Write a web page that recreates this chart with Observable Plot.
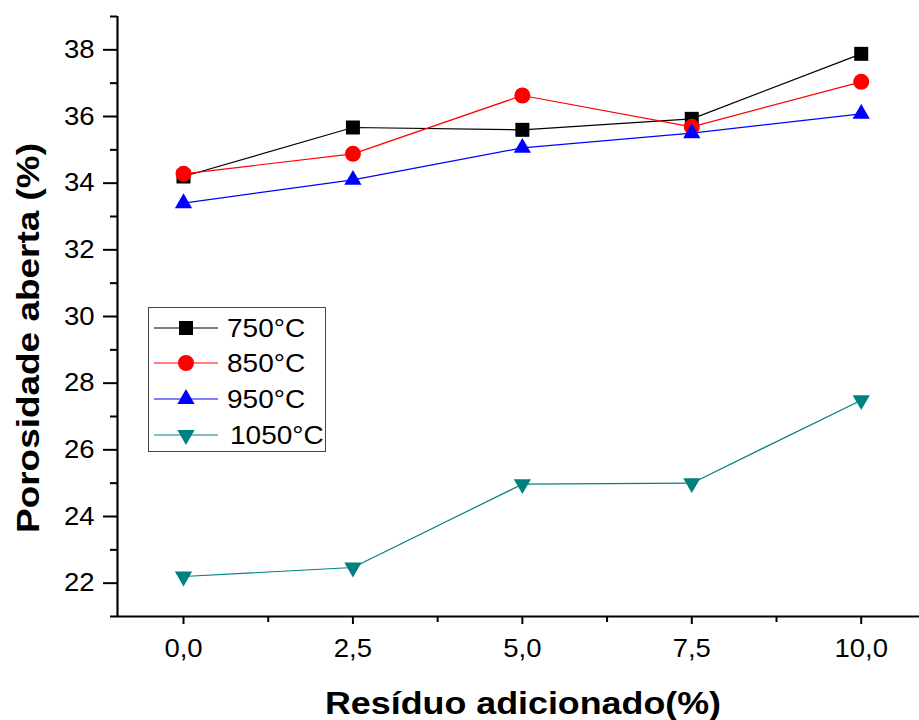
<!DOCTYPE html>
<html>
<head>
<meta charset="utf-8">
<script src="https://cdn.jsdelivr.net/npm/d3@7"></script>
<script src="https://cdn.jsdelivr.net/npm/@observablehq/plot@0.6"></script>
<style>
  html, body { margin: 0; padding: 0; background: #fff; }
  #chart { position: relative; width: 919px; height: 720px; }
</style>
</head>
<body>
<div id="chart"></div>
<script>
// ---- data ----
const residuo = [0, 2.5, 5, 7.5, 10];
const series = ["750°C", "850°C", "950°C", "1050°C"];
const por750 = [34.2, 35.67, 35.6, 35.93, 37.88];
const por850 = [34.28, 34.88, 36.63, 35.69, 37.04];
const por950 = [33.4, 34.1, 35.06, 35.5, 36.08];
const por1050 = [22.2, 22.47, 24.97, 25.0, 27.49];
const colors = ["#000000", "#ff0000", "#0000ff", "#008080"];
const xTicks = [0, 2.5, 5, 7.5, 10];
const xTickLabels = ["0,0", "2,5", "5,0", "7,5", "10,0"];
const xMinor = [1.25, 3.75, 6.25, 8.75];
const yTicks = [22, 24, 26, 28, 30, 32, 34, 36, 38];
const yMinor = [21, 23, 25, 27, 29, 31, 33, 35, 37, 39];
const xDomain = [-0.974, 10.86];
const yDomain = [21, 39];

const triangleDown = {
  draw(context, size) {
    const y = -Math.sqrt(size / (Math.sqrt(3) * 3));
    context.moveTo(0, -y * 2);
    context.lineTo(-Math.sqrt(3) * y, y);
    context.lineTo(Math.sqrt(3) * y, y);
    context.closePath();
  }
};
const symbols = ["square", "circle", "triangle", triangleDown];
const radii = [7.9, 8, 6.4, 6.4];

const allValues = [por750, por850, por950, por1050];
const data = [];
series.forEach((s, i) => residuo.forEach((x, j) => data.push({serie: s, idx: i, x, y: allValues[i][j]})));

const font = "'Liberation Sans', Arial, sans-serif";

const marks = [];
series.forEach((s, i) => {
  const d = data.filter(r => r.idx === i);
  marks.push(Plot.line(d, {x: "x", y: "y", stroke: colors[i], strokeWidth: 1.2}));
});
series.forEach((s, i) => {
  const d = data.filter(r => r.idx === i);
  marks.push(Plot.dot(d, {x: "x", y: "y", fill: colors[i], stroke: "none", symbol: symbols[i], r: radii[i]}));
});

// axes
marks.push(
  Plot.ruleX([xDomain[0]], {stroke: "#000", strokeWidth: 2.2}),
  Plot.ruleY([yDomain[0]], {stroke: "#000", strokeWidth: 2.2}),
  Plot.axisY({ticks: yTicks, tickSize: 14, tickPadding: 9, tickFormat: d => String(d), label: null, fontSize: 25, strokeWidth: 2}),
  Plot.axisY({ticks: yMinor, tickSize: 7, tickFormat: () => "", label: null, strokeWidth: 2}),
  Plot.axisX({ticks: xTicks, tickSize: 8, tickPadding: 15, tickFormat: (d) => xTickLabels[xTicks.indexOf(d)], label: null, fontSize: 25, strokeWidth: 2}),
  Plot.axisX({ticks: xMinor, tickSize: 6, tickFormat: () => "", label: null, strokeWidth: 2})
);

const plot = Plot.plot({
  width: 919,
  height: 720,
  marginLeft: 117,
  marginRight: 0,
  marginTop: 16,
  marginBottom: 104,
  style: {fontFamily: font, fontSize: "25px", color: "#000", background: "#fff", overflow: "visible"},
  x: {domain: xDomain},
  y: {domain: yDomain},
  marks
});

const svg = d3.select(plot);
const tickTexts = svg.selectAll("g[aria-label='y-axis tick label'] text, g[aria-label='x-axis tick label'] text")
  .style("font-size", "25px");

// axis titles
svg.append("text")
  .attr("x", 523).attr("y", 703)
  .attr("text-anchor", "middle").attr("dominant-baseline", "central")
  .attr("textLength", 396).attr("lengthAdjust", "spacingAndGlyphs")
  .style("font-family", font).style("font-weight", "bold").style("font-size", "31px")
  .text("Resíduo adicionado(%)");
svg.append("text")
  .attr("transform", "translate(28,338) rotate(-90)")
  .attr("text-anchor", "middle").attr("dominant-baseline", "central")
  .attr("textLength", 390).attr("lengthAdjust", "spacingAndGlyphs")
  .style("font-family", font).style("font-weight", "bold").style("font-size", "31px")
  .text("Porosidade aberta (%)");

// legend
const lg = svg.append("g");
lg.append("rect").attr("x", 148.5).attr("y", 307.5).attr("width", 177).attr("height", 144)
  .attr("fill", "#fff").attr("stroke", "#444").attr("stroke-width", 1);
const rowsY = [328, 363, 399, 435];
const legendTexts = [];
series.forEach((s, i) => {
  const y = rowsY[i];
  lg.append("line").attr("x1", 154).attr("x2", 218).attr("y1", y).attr("y2", y)
    .attr("stroke", colors[i]).attr("stroke-width", 1.2);
  const sym = typeof symbols[i] === "string" ? {square: d3.symbolSquare, circle: d3.symbolCircle, triangle: d3.symbolTriangle}[symbols[i]] : symbols[i];
  lg.append("path").attr("transform", `translate(186,${y})`)
    .attr("d", d3.symbol(sym, Math.PI * radii[i] * radii[i])())
    .attr("fill", colors[i]);
  legendTexts.push(lg.append("text").attr("x", i === 3 ? 230 : 227).attr("y", y)
    .attr("text-anchor", "start").attr("dominant-baseline", "central")
    .style("font-family", font).style("font-size", "25px").text(s).node());
});

document.getElementById("chart").appendChild(plot);

// stretch glyphs slightly to match the reference's wider rendering
tickTexts.each(function () {
  const w = this.getComputedTextLength();
  if (w > 0) { this.setAttribute("textLength", w * 1.1); this.setAttribute("lengthAdjust", "spacingAndGlyphs"); }
});
legendTexts.forEach(t => {
  const w = t.getComputedTextLength();
  if (w > 0) { t.setAttribute("textLength", w * 1.12); t.setAttribute("lengthAdjust", "spacingAndGlyphs"); }
});
</script>
</body>
</html>
